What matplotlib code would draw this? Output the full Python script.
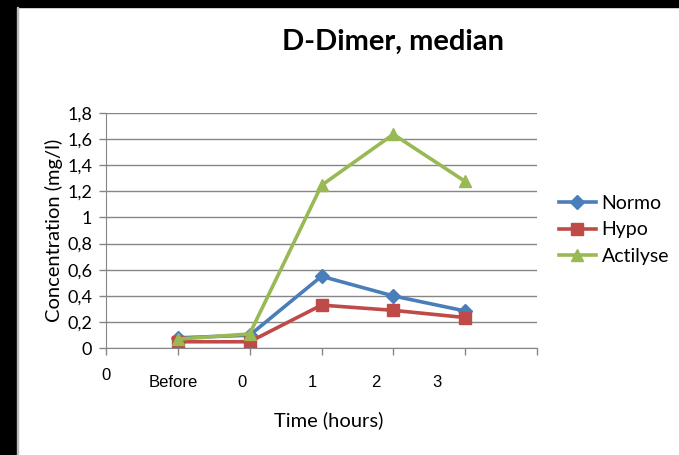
import matplotlib.pyplot as plt
from matplotlib.patches import Rectangle

# data
positions = [1, 2, 3, 4, 5]
normo = [0.08, 0.10, 0.55, 0.40, 0.285]
hypo = [0.05, 0.05, 0.33, 0.29, 0.235]
actilyse = [0.07, 0.11, 1.245, 1.635, 1.275]

x_labels = ["0", "Before", "0", "1", "2", "3"]
x_label_pos = [0.0, 0.93, 1.89, 2.87, 3.75, 4.61]
y_ticks = [0, 0.2, 0.4, 0.6, 0.8, 1.0, 1.2, 1.4, 1.6, 1.8]
y_tick_labels = ["0", "0,2", "0,4", "0,6", "0,8", "1", "1,2", "1,4", "1,6", "1,8"]

plt.rcParams['font.family'] = ['Lato', 'DejaVu Sans']

fig = plt.figure(figsize=(6.79, 4.55), dpi=100)
ax = fig.add_axes([106/679, 106.7/455, 431/679, 235.6/455])

grid_c = "#868686"
ax.plot(positions, normo, color="#4A7EBB", lw=2.6, marker="D", ms=7, label="Normo")
ax.plot(positions, hypo, color="#BE4B48", lw=2.6, marker="s", ms=8, label="Hypo")
ax.plot(positions, actilyse, color="#98B954", lw=2.6, marker="^", ms=9, label="Actilyse")

ax.set_xlim(0, 6)
ax.set_ylim(0, 1.8)
ax.set_yticks(y_ticks)
ax.set_yticklabels(y_tick_labels, fontsize=13)
ax.set_xticks(range(7))
ax.set_xticklabels([])
ax.yaxis.grid(True, color=grid_c, lw=1)
ax.set_axisbelow(True)
for s in ["top", "right"]:
    ax.spines[s].set_visible(False)
for s in ["left", "bottom"]:
    ax.spines[s].set_color(grid_c)
ax.tick_params(axis="both", color=grid_c, length=5, width=1)
ax.tick_params(axis="y", pad=5)

# category labels below the axis (offset as in the original)
for i, (lab, p) in enumerate(zip(x_labels, x_label_pos)):
    dy = -19.5 if i == 0 else -24.5
    ax.annotate(lab, xy=(p, 0), xycoords="data", xytext=(0, dy),
                textcoords="offset points", ha="center", va="center",
                fontsize=12, family=["Liberation Sans", "DejaVu Sans"])

ax.set_ylabel("Concentration (mg/l)", fontsize=14.5, labelpad=3)
fig.text(329/679, 1 - 420/455, "Time (hours)", ha="center", va="center", fontsize=14.5)
fig.text(393/679, 1 - 42/455, "D-Dimer, median", ha="center", va="center",
         fontsize=21, fontweight="bold")

fig.legend(loc="center left", bbox_to_anchor=(0.797, 1 - 230/455), frameon=False,
           fontsize=14, handlelength=1.9, labelspacing=0.48, handletextpad=0.3)

# black frame on left and top edges
fig.patches.append(Rectangle((0, 0), 16/679, 1, transform=fig.transFigure,
                             color="black", zorder=10))
fig.patches.append(Rectangle((0, 1 - 7/455), 1, 7/455, transform=fig.transFigure,
                             color="black", zorder=10))
fig.patches.append(Rectangle((17/679, 0), 1.2/679, 1 - 7/455, transform=fig.transFigure,
                             color="#bbbbbb", zorder=10))

fig.savefig("out.png", dpi=100)
